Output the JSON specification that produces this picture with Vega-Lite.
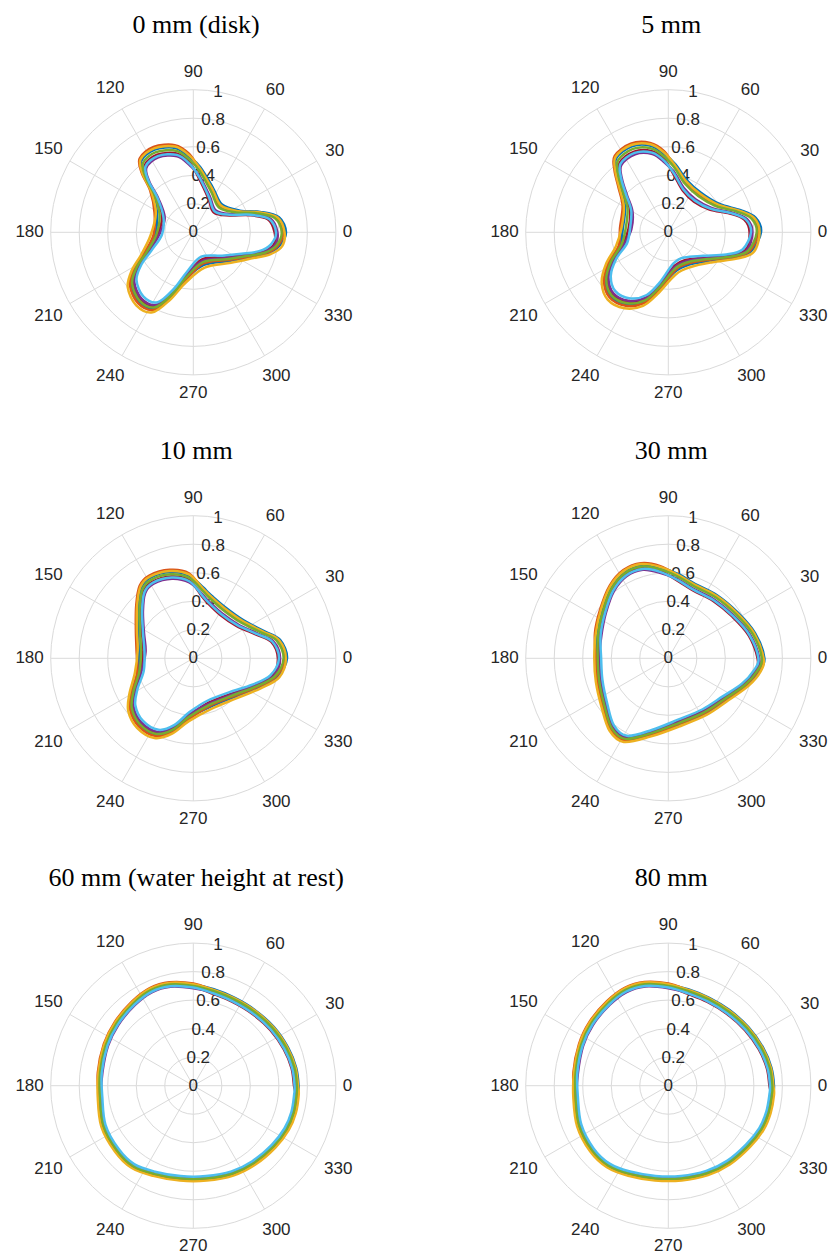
{
"$schema":"https://vega.github.io/schema/vega-lite/v6.json",
"padding":0,
"spacing":0,
"columns":2,
"bounds":"flush",
"config":{"view":{"stroke":null}},
"datasets":{
"grid":[{"r":0.2},{"r":0.4},{"r":0.6},{"r":0.8},{"r":1}],
"spokes":[{"a":0,"t":"0"},{"a":30,"t":"30"},{"a":60,"t":"60"},{"a":90,"t":"90"},{"a":120,"t":"120"},{"a":150,"t":"150"},{"a":180,"t":"180"},{"a":210,"t":"210"},{"a":240,"t":"240"},{"a":270,"t":"270"},{"a":300,"t":"300"},{"a":330,"t":"330"}],
"rt":[{"r":0,"t":"0"},{"r":0.2,"t":"0.2"},{"r":0.4,"t":"0.4"},{"r":0.6,"t":"0.6"},{"r":0.8,"t":"0.8"},{"r":1,"t":"1"}],
"titles":[{"p":1,"t":"0 mm (disk)"},{"p":2,"t":"5 mm"},{"p":3,"t":"10 mm"},{"p":4,"t":"30 mm"},{"p":5,"t":"60 mm (water height at rest)"},{"p":6,"t":"80 mm"}],
"curves":[
{"p":1,"a":0,"c1":0.65,"c2":0.57,"c3":0.63,"c4":0.59,"c5":0.64,"c6":0.58,"c7":0.62},
{"p":1,"a":10,"c1":0.61,"c2":0.53,"c3":0.59,"c4":0.55,"c5":0.60,"c6":0.54,"c7":0.58},
{"p":1,"a":17,"c1":0.49,"c2":0.41,"c3":0.47,"c4":0.43,"c5":0.48,"c6":0.42,"c7":0.46},
{"p":1,"a":25,"c1":0.36,"c2":0.28,"c3":0.34,"c4":0.30,"c5":0.35,"c6":0.29,"c7":0.33},
{"p":1,"a":44,"c1":0.28,"c2":0.20,"c3":0.26,"c4":0.22,"c5":0.27,"c6":0.21,"c7":0.25},
{"p":1,"a":66,"c1":0.34,"c2":0.26,"c3":0.32,"c4":0.28,"c5":0.33,"c6":0.27,"c7":0.31},
{"p":1,"a":84,"c1":0.46,"c2":0.38,"c3":0.44,"c4":0.40,"c5":0.45,"c6":0.39,"c7":0.43},
{"p":1,"a":93,"c1":0.53,"c2":0.49,"c3":0.55,"c4":0.47,"c5":0.54,"c6":0.48,"c7":0.51},
{"p":1,"a":102,"c1":0.605,"c2":0.565,"c3":0.625,"c4":0.545,"c5":0.615,"c6":0.555,"c7":0.585},
{"p":1,"a":115,"c1":0.64,"c2":0.60,"c3":0.66,"c4":0.58,"c5":0.65,"c6":0.59,"c7":0.62},
{"p":1,"a":126,"c1":0.62,"c2":0.58,"c3":0.64,"c4":0.56,"c5":0.63,"c6":0.57,"c7":0.60},
{"p":1,"a":131,"c1":0.53,"c2":0.49,"c3":0.55,"c4":0.47,"c5":0.54,"c6":0.48,"c7":0.51},
{"p":1,"a":136,"c1":0.40,"c2":0.36,"c3":0.42,"c4":0.34,"c5":0.41,"c6":0.35,"c7":0.38},
{"p":1,"a":153,"c1":0.285,"c2":0.245,"c3":0.305,"c4":0.225,"c5":0.295,"c6":0.235,"c7":0.265},
{"p":1,"a":184,"c1":0.27,"c2":0.25,"c3":0.28,"c4":0.24,"c5":0.30,"c6":0.22,"c7":0.26},
{"p":1,"a":203,"c1":0.365,"c2":0.345,"c3":0.375,"c4":0.335,"c5":0.395,"c6":0.315,"c7":0.355},
{"p":1,"a":212,"c1":0.48,"c2":0.46,"c3":0.49,"c4":0.45,"c5":0.51,"c6":0.43,"c7":0.47},
{"p":1,"a":220,"c1":0.57,"c2":0.55,"c3":0.58,"c4":0.54,"c5":0.60,"c6":0.52,"c7":0.56},
{"p":1,"a":232,"c1":0.62,"c2":0.60,"c3":0.63,"c4":0.59,"c5":0.65,"c6":0.57,"c7":0.61},
{"p":1,"a":243,"c1":0.60,"c2":0.58,"c3":0.61,"c4":0.57,"c5":0.63,"c6":0.55,"c7":0.59},
{"p":1,"a":251,"c1":0.47,"c2":0.45,"c3":0.48,"c4":0.44,"c5":0.50,"c6":0.42,"c7":0.46},
{"p":1,"a":261,"c1":0.33,"c2":0.31,"c3":0.34,"c4":0.30,"c5":0.36,"c6":0.28,"c7":0.32},
{"p":1,"a":288,"c1":0.24,"c2":0.20,"c3":0.23,"c4":0.21,"c5":0.26,"c6":0.18,"c7":0.22},
{"p":1,"a":321,"c1":0.32,"c2":0.28,"c3":0.31,"c4":0.29,"c5":0.34,"c6":0.26,"c7":0.30},
{"p":1,"a":336,"c1":0.43,"c2":0.39,"c3":0.42,"c4":0.40,"c5":0.45,"c6":0.37,"c7":0.41},
{"p":1,"a":344,"c1":0.54,"c2":0.50,"c3":0.53,"c4":0.51,"c5":0.56,"c6":0.48,"c7":0.52},
{"p":1,"a":351,"c1":0.61,"c2":0.57,"c3":0.60,"c4":0.58,"c5":0.63,"c6":0.55,"c7":0.59},
{"p":2,"a":0,"c1":0.65,"c2":0.57,"c3":0.63,"c4":0.59,"c5":0.64,"c6":0.58,"c7":0.62},
{"p":2,"a":9.5,"c1":0.62,"c2":0.54,"c3":0.60,"c4":0.56,"c5":0.61,"c6":0.55,"c7":0.59},
{"p":2,"a":17,"c1":0.53,"c2":0.45,"c3":0.51,"c4":0.47,"c5":0.52,"c6":0.46,"c7":0.50},
{"p":2,"a":29,"c1":0.41,"c2":0.33,"c3":0.39,"c4":0.35,"c5":0.40,"c6":0.34,"c7":0.38},
{"p":2,"a":50,"c1":0.36,"c2":0.28,"c3":0.34,"c4":0.30,"c5":0.35,"c6":0.29,"c7":0.33},
{"p":2,"a":71,"c1":0.39,"c2":0.31,"c3":0.37,"c4":0.33,"c5":0.38,"c6":0.32,"c7":0.36},
{"p":2,"a":84,"c1":0.48,"c2":0.40,"c3":0.46,"c4":0.42,"c5":0.47,"c6":0.41,"c7":0.45},
{"p":2,"a":93,"c1":0.55,"c2":0.51,"c3":0.57,"c4":0.49,"c5":0.56,"c6":0.50,"c7":0.53},
{"p":2,"a":101.5,"c1":0.62,"c2":0.58,"c3":0.64,"c4":0.56,"c5":0.63,"c6":0.57,"c7":0.60},
{"p":2,"a":113,"c1":0.655,"c2":0.615,"c3":0.675,"c4":0.595,"c5":0.665,"c6":0.605,"c7":0.635},
{"p":2,"a":125,"c1":0.635,"c2":0.595,"c3":0.655,"c4":0.575,"c5":0.645,"c6":0.585,"c7":0.615},
{"p":2,"a":131,"c1":0.555,"c2":0.515,"c3":0.575,"c4":0.495,"c5":0.565,"c6":0.505,"c7":0.535},
{"p":2,"a":138,"c1":0.45,"c2":0.41,"c3":0.47,"c4":0.39,"c5":0.46,"c6":0.40,"c7":0.43},
{"p":2,"a":150,"c1":0.35,"c2":0.31,"c3":0.37,"c4":0.29,"c5":0.36,"c6":0.30,"c7":0.33},
{"p":2,"a":175,"c1":0.32,"c2":0.28,"c3":0.34,"c4":0.26,"c5":0.33,"c6":0.27,"c7":0.30},
{"p":2,"a":195,"c1":0.35,"c2":0.33,"c3":0.36,"c4":0.32,"c5":0.38,"c6":0.30,"c7":0.34},
{"p":2,"a":207,"c1":0.46,"c2":0.44,"c3":0.47,"c4":0.43,"c5":0.49,"c6":0.41,"c7":0.45},
{"p":2,"a":217,"c1":0.555,"c2":0.535,"c3":0.565,"c4":0.525,"c5":0.585,"c6":0.505,"c7":0.545},
{"p":2,"a":228,"c1":0.605,"c2":0.585,"c3":0.615,"c4":0.575,"c5":0.635,"c6":0.555,"c7":0.595},
{"p":2,"a":240,"c1":0.585,"c2":0.565,"c3":0.595,"c4":0.555,"c5":0.615,"c6":0.535,"c7":0.575},
{"p":2,"a":251,"c1":0.515,"c2":0.495,"c3":0.525,"c4":0.485,"c5":0.545,"c6":0.465,"c7":0.505},
{"p":2,"a":260,"c1":0.41,"c2":0.39,"c3":0.42,"c4":0.38,"c5":0.44,"c6":0.36,"c7":0.40},
{"p":2,"a":280,"c1":0.28,"c2":0.24,"c3":0.27,"c4":0.25,"c5":0.30,"c6":0.22,"c7":0.26},
{"p":2,"a":303,"c1":0.27,"c2":0.23,"c3":0.26,"c4":0.24,"c5":0.29,"c6":0.21,"c7":0.25},
{"p":2,"a":326,"c1":0.355,"c2":0.315,"c3":0.345,"c4":0.325,"c5":0.375,"c6":0.295,"c7":0.335},
{"p":2,"a":339,"c1":0.495,"c2":0.455,"c3":0.485,"c4":0.465,"c5":0.515,"c6":0.435,"c7":0.475},
{"p":2,"a":347,"c1":0.595,"c2":0.555,"c3":0.585,"c4":0.565,"c5":0.615,"c6":0.535,"c7":0.575},
{"p":3,"a":0,"c1":0.657,"c2":0.593,"c3":0.641,"c4":0.609,"c5":0.649,"c6":0.601,"c7":0.633},
{"p":3,"a":12,"c1":0.622,"c2":0.558,"c3":0.606,"c4":0.574,"c5":0.614,"c6":0.566,"c7":0.598},
{"p":3,"a":21,"c1":0.532,"c2":0.468,"c3":0.516,"c4":0.484,"c5":0.524,"c6":0.476,"c7":0.508},
{"p":3,"a":37,"c1":0.442,"c2":0.378,"c3":0.426,"c4":0.394,"c5":0.434,"c6":0.386,"c7":0.418},
{"p":3,"a":58,"c1":0.422,"c2":0.358,"c3":0.406,"c4":0.374,"c5":0.414,"c6":0.366,"c7":0.398},
{"p":3,"a":76,"c1":0.467,"c2":0.403,"c3":0.451,"c4":0.419,"c5":0.459,"c6":0.411,"c7":0.443},
{"p":3,"a":82,"c1":0.502,"c2":0.438,"c3":0.486,"c4":0.454,"c5":0.494,"c6":0.446,"c7":0.478},
{"p":3,"a":93,"c1":0.581,"c2":0.549,"c3":0.597,"c4":0.533,"c5":0.589,"c6":0.541,"c7":0.565},
{"p":3,"a":105,"c1":0.626,"c2":0.594,"c3":0.642,"c4":0.578,"c5":0.634,"c6":0.586,"c7":0.61},
{"p":3,"a":118,"c1":0.641,"c2":0.609,"c3":0.657,"c4":0.593,"c5":0.649,"c6":0.601,"c7":0.625},
{"p":3,"a":126.5,"c1":0.616,"c2":0.584,"c3":0.632,"c4":0.568,"c5":0.624,"c6":0.576,"c7":0.60},
{"p":3,"a":137,"c1":0.531,"c2":0.499,"c3":0.547,"c4":0.483,"c5":0.539,"c6":0.491,"c7":0.515},
{"p":3,"a":153,"c1":0.436,"c2":0.404,"c3":0.452,"c4":0.388,"c5":0.444,"c6":0.396,"c7":0.42},
{"p":3,"a":172,"c1":0.386,"c2":0.354,"c3":0.402,"c4":0.338,"c5":0.394,"c6":0.346,"c7":0.37},
{"p":3,"a":194,"c1":0.398,"c2":0.382,"c3":0.406,"c4":0.374,"c5":0.422,"c6":0.358,"c7":0.39},
{"p":3,"a":209,"c1":0.488,"c2":0.472,"c3":0.496,"c4":0.464,"c5":0.512,"c6":0.448,"c7":0.48},
{"p":3,"a":219,"c1":0.563,"c2":0.547,"c3":0.571,"c4":0.539,"c5":0.587,"c6":0.523,"c7":0.555},
{"p":3,"a":231,"c1":0.603,"c2":0.587,"c3":0.611,"c4":0.579,"c5":0.627,"c6":0.563,"c7":0.595},
{"p":3,"a":244,"c1":0.598,"c2":0.582,"c3":0.606,"c4":0.574,"c5":0.622,"c6":0.558,"c7":0.59},
{"p":3,"a":254,"c1":0.528,"c2":0.512,"c3":0.536,"c4":0.504,"c5":0.552,"c6":0.488,"c7":0.52},
{"p":3,"a":266,"c1":0.418,"c2":0.402,"c3":0.426,"c4":0.394,"c5":0.442,"c6":0.378,"c7":0.41},
{"p":3,"a":289,"c1":0.361,"c2":0.329,"c3":0.353,"c4":0.337,"c5":0.377,"c6":0.313,"c7":0.345},
{"p":3,"a":317,"c1":0.396,"c2":0.364,"c3":0.388,"c4":0.372,"c5":0.412,"c6":0.348,"c7":0.38},
{"p":3,"a":336,"c1":0.501,"c2":0.469,"c3":0.493,"c4":0.477,"c5":0.517,"c6":0.453,"c7":0.485},
{"p":3,"a":347.5,"c1":0.601,"c2":0.569,"c3":0.593,"c4":0.577,"c5":0.617,"c6":0.553,"c7":0.585},
{"p":4,"a":0,"c1":0.674,"c2":0.626,"c3":0.662,"c4":0.638,"c5":0.668,"c6":0.632,"c7":0.656},
{"p":4,"a":16,"c1":0.634,"c2":0.586,"c3":0.622,"c4":0.598,"c5":0.628,"c6":0.592,"c7":0.616},
{"p":4,"a":33,"c1":0.584,"c2":0.536,"c3":0.572,"c4":0.548,"c5":0.578,"c6":0.542,"c7":0.566},
{"p":4,"a":52,"c1":0.559,"c2":0.511,"c3":0.547,"c4":0.523,"c5":0.553,"c6":0.517,"c7":0.541},
{"p":4,"a":70,"c1":0.554,"c2":0.506,"c3":0.542,"c4":0.518,"c5":0.548,"c6":0.512,"c7":0.536},
{"p":4,"a":83,"c1":0.594,"c2":0.546,"c3":0.582,"c4":0.558,"c5":0.588,"c6":0.552,"c7":0.576},
{"p":4,"a":95,"c1":0.637,"c2":0.613,"c3":0.649,"c4":0.601,"c5":0.643,"c6":0.607,"c7":0.625},
{"p":4,"a":106,"c1":0.682,"c2":0.658,"c3":0.694,"c4":0.646,"c5":0.688,"c6":0.652,"c7":0.67},
{"p":4,"a":117,"c1":0.682,"c2":0.658,"c3":0.694,"c4":0.646,"c5":0.688,"c6":0.652,"c7":0.67},
{"p":4,"a":129,"c1":0.642,"c2":0.618,"c3":0.654,"c4":0.606,"c5":0.648,"c6":0.612,"c7":0.63},
{"p":4,"a":144,"c1":0.577,"c2":0.553,"c3":0.589,"c4":0.541,"c5":0.583,"c6":0.547,"c7":0.565},
{"p":4,"a":161,"c1":0.532,"c2":0.508,"c3":0.544,"c4":0.496,"c5":0.538,"c6":0.502,"c7":0.52},
{"p":4,"a":180,"c1":0.501,"c2":0.489,"c3":0.507,"c4":0.483,"c5":0.519,"c6":0.471,"c7":0.495},
{"p":4,"a":198,"c1":0.516,"c2":0.504,"c3":0.522,"c4":0.498,"c5":0.534,"c6":0.486,"c7":0.51},
{"p":4,"a":216,"c1":0.561,"c2":0.549,"c3":0.567,"c4":0.543,"c5":0.579,"c6":0.531,"c7":0.555},
{"p":4,"a":231,"c1":0.636,"c2":0.624,"c3":0.642,"c4":0.618,"c5":0.654,"c6":0.606,"c7":0.63},
{"p":4,"a":242,"c1":0.646,"c2":0.634,"c3":0.652,"c4":0.628,"c5":0.664,"c6":0.616,"c7":0.64},
{"p":4,"a":257,"c1":0.546,"c2":0.534,"c3":0.552,"c4":0.528,"c5":0.564,"c6":0.516,"c7":0.54},
{"p":4,"a":279,"c1":0.472,"c2":0.448,"c3":0.466,"c4":0.454,"c5":0.484,"c6":0.436,"c7":0.46},
{"p":4,"a":304,"c1":0.467,"c2":0.443,"c3":0.461,"c4":0.449,"c5":0.479,"c6":0.431,"c7":0.455},
{"p":4,"a":325,"c1":0.502,"c2":0.478,"c3":0.496,"c4":0.484,"c5":0.514,"c6":0.466,"c7":0.49},
{"p":4,"a":341,"c1":0.582,"c2":0.558,"c3":0.576,"c4":0.564,"c5":0.594,"c6":0.546,"c7":0.57},
{"p":4,"a":352,"c1":0.642,"c2":0.618,"c3":0.636,"c4":0.624,"c5":0.654,"c6":0.606,"c7":0.63},
{"p":5,"a":0,"c1":0.738,"c2":0.706,"c3":0.730,"c4":0.714,"c5":0.734,"c6":0.710,"c7":0.726},
{"p":5,"a":10,"c1":0.732,"c2":0.700,"c3":0.724,"c4":0.708,"c5":0.728,"c6":0.704,"c7":0.720},
{"p":5,"a":22,"c1":0.716,"c2":0.684,"c3":0.708,"c4":0.692,"c5":0.712,"c6":0.688,"c7":0.704},
{"p":5,"a":36,"c1":0.699,"c2":0.667,"c3":0.691,"c4":0.675,"c5":0.695,"c6":0.671,"c7":0.687},
{"p":5,"a":51,"c1":0.684,"c2":0.652,"c3":0.676,"c4":0.660,"c5":0.680,"c6":0.656,"c7":0.672},
{"p":5,"a":65,"c1":0.681,"c2":0.649,"c3":0.673,"c4":0.657,"c5":0.677,"c6":0.653,"c7":0.669},
{"p":5,"a":78,"c1":0.691,"c2":0.659,"c3":0.683,"c4":0.667,"c5":0.687,"c6":0.663,"c7":0.679},
{"p":5,"a":90,"c1":0.708,"c2":0.692,"c3":0.716,"c4":0.684,"c5":0.712,"c6":0.688,"c7":0.70},
{"p":5,"a":103,"c1":0.736,"c2":0.720,"c3":0.744,"c4":0.712,"c5":0.740,"c6":0.716,"c7":0.728},
{"p":5,"a":114,"c1":0.741,"c2":0.725,"c3":0.749,"c4":0.717,"c5":0.745,"c6":0.721,"c7":0.733},
{"p":5,"a":126,"c1":0.722,"c2":0.706,"c3":0.730,"c4":0.698,"c5":0.726,"c6":0.702,"c7":0.714},
{"p":5,"a":141,"c1":0.701,"c2":0.685,"c3":0.709,"c4":0.677,"c5":0.705,"c6":0.681,"c7":0.693},
{"p":5,"a":155,"c1":0.684,"c2":0.668,"c3":0.692,"c4":0.660,"c5":0.688,"c6":0.664,"c7":0.676},
{"p":5,"a":172,"c1":0.668,"c2":0.652,"c3":0.676,"c4":0.644,"c5":0.672,"c6":0.648,"c7":0.66},
{"p":5,"a":187,"c1":0.663,"c2":0.655,"c3":0.667,"c4":0.651,"c5":0.675,"c6":0.643,"c7":0.659},
{"p":5,"a":204,"c1":0.694,"c2":0.686,"c3":0.698,"c4":0.682,"c5":0.706,"c6":0.674,"c7":0.69},
{"p":5,"a":220,"c1":0.706,"c2":0.698,"c3":0.710,"c4":0.694,"c5":0.718,"c6":0.686,"c7":0.702},
{"p":5,"a":233,"c1":0.709,"c2":0.701,"c3":0.713,"c4":0.697,"c5":0.721,"c6":0.689,"c7":0.705},
{"p":5,"a":246,"c1":0.680,"c2":0.672,"c3":0.684,"c4":0.668,"c5":0.692,"c6":0.660,"c7":0.676},
{"p":5,"a":262,"c1":0.660,"c2":0.652,"c3":0.664,"c4":0.648,"c5":0.672,"c6":0.640,"c7":0.656},
{"p":5,"a":278,"c1":0.664,"c2":0.648,"c3":0.660,"c4":0.652,"c5":0.672,"c6":0.640,"c7":0.656},
{"p":5,"a":294,"c1":0.682,"c2":0.666,"c3":0.678,"c4":0.670,"c5":0.690,"c6":0.658,"c7":0.674},
{"p":5,"a":308,"c1":0.696,"c2":0.680,"c3":0.692,"c4":0.684,"c5":0.704,"c6":0.672,"c7":0.688},
{"p":5,"a":323,"c1":0.713,"c2":0.697,"c3":0.709,"c4":0.701,"c5":0.721,"c6":0.689,"c7":0.705},
{"p":5,"a":335,"c1":0.730,"c2":0.714,"c3":0.726,"c4":0.718,"c5":0.738,"c6":0.706,"c7":0.722},
{"p":5,"a":345,"c1":0.736,"c2":0.720,"c3":0.732,"c4":0.724,"c5":0.744,"c6":0.712,"c7":0.728},
{"p":5,"a":355,"c1":0.734,"c2":0.718,"c3":0.730,"c4":0.722,"c5":0.742,"c6":0.710,"c7":0.726},
{"p":6,"a":0,"c1":0.741,"c2":0.709,"c3":0.733,"c4":0.717,"c5":0.737,"c6":0.713,"c7":0.729},
{"p":6,"a":10,"c1":0.734,"c2":0.702,"c3":0.726,"c4":0.710,"c5":0.730,"c6":0.706,"c7":0.722},
{"p":6,"a":22,"c1":0.716,"c2":0.684,"c3":0.708,"c4":0.692,"c5":0.712,"c6":0.688,"c7":0.704},
{"p":6,"a":36,"c1":0.696,"c2":0.664,"c3":0.688,"c4":0.672,"c5":0.692,"c6":0.668,"c7":0.684},
{"p":6,"a":51,"c1":0.682,"c2":0.650,"c3":0.674,"c4":0.658,"c5":0.678,"c6":0.654,"c7":0.670},
{"p":6,"a":65,"c1":0.680,"c2":0.648,"c3":0.672,"c4":0.656,"c5":0.676,"c6":0.652,"c7":0.668},
{"p":6,"a":78,"c1":0.690,"c2":0.658,"c3":0.682,"c4":0.666,"c5":0.686,"c6":0.662,"c7":0.678},
{"p":6,"a":90,"c1":0.708,"c2":0.692,"c3":0.716,"c4":0.684,"c5":0.712,"c6":0.688,"c7":0.70},
{"p":6,"a":103,"c1":0.738,"c2":0.722,"c3":0.746,"c4":0.714,"c5":0.742,"c6":0.718,"c7":0.73},
{"p":6,"a":114,"c1":0.743,"c2":0.727,"c3":0.751,"c4":0.719,"c5":0.747,"c6":0.723,"c7":0.735},
{"p":6,"a":126,"c1":0.724,"c2":0.708,"c3":0.732,"c4":0.700,"c5":0.728,"c6":0.704,"c7":0.716},
{"p":6,"a":141,"c1":0.703,"c2":0.687,"c3":0.711,"c4":0.679,"c5":0.707,"c6":0.683,"c7":0.695},
{"p":6,"a":155,"c1":0.683,"c2":0.667,"c3":0.691,"c4":0.659,"c5":0.687,"c6":0.663,"c7":0.675},
{"p":6,"a":172,"c1":0.664,"c2":0.648,"c3":0.672,"c4":0.640,"c5":0.668,"c6":0.644,"c7":0.656},
{"p":6,"a":187,"c1":0.659,"c2":0.651,"c3":0.663,"c4":0.647,"c5":0.671,"c6":0.639,"c7":0.655},
{"p":6,"a":204,"c1":0.688,"c2":0.680,"c3":0.692,"c4":0.676,"c5":0.700,"c6":0.668,"c7":0.684},
{"p":6,"a":220,"c1":0.704,"c2":0.696,"c3":0.708,"c4":0.692,"c5":0.716,"c6":0.684,"c7":0.70},
{"p":6,"a":233,"c1":0.704,"c2":0.696,"c3":0.708,"c4":0.692,"c5":0.716,"c6":0.684,"c7":0.70},
{"p":6,"a":246,"c1":0.679,"c2":0.671,"c3":0.683,"c4":0.667,"c5":0.691,"c6":0.659,"c7":0.675},
{"p":6,"a":262,"c1":0.659,"c2":0.651,"c3":0.663,"c4":0.647,"c5":0.671,"c6":0.639,"c7":0.655},
{"p":6,"a":278,"c1":0.663,"c2":0.647,"c3":0.659,"c4":0.651,"c5":0.671,"c6":0.639,"c7":0.655},
{"p":6,"a":294,"c1":0.678,"c2":0.662,"c3":0.674,"c4":0.666,"c5":0.686,"c6":0.654,"c7":0.67},
{"p":6,"a":308,"c1":0.693,"c2":0.677,"c3":0.689,"c4":0.681,"c5":0.701,"c6":0.669,"c7":0.685},
{"p":6,"a":323,"c1":0.708,"c2":0.692,"c3":0.704,"c4":0.696,"c5":0.716,"c6":0.684,"c7":0.70},
{"p":6,"a":335,"c1":0.728,"c2":0.712,"c3":0.724,"c4":0.716,"c5":0.736,"c6":0.704,"c7":0.72},
{"p":6,"a":345,"c1":0.735,"c2":0.719,"c3":0.731,"c4":0.723,"c5":0.743,"c6":0.711,"c7":0.727},
{"p":6,"a":355,"c1":0.736,"c2":0.720,"c3":0.732,"c4":0.724,"c5":0.744,"c6":0.712,"c7":0.728}
]
},
"concat":[
{"width":415,"height":418,
"encoding":{"x":{"field":"x","type":"quantitative","scale":{"domain":[-1.35554,1.5547],"nice":false,"zero":false},"axis":null},"y":{"field":"y","type":"quantitative","scale":{"domain":[-1.30224,1.62903],"nice":false,"zero":false},"axis":null}},
"layer":[
{"data":{"name":"grid"},"transform":[{"calculate":"0","as":"x"},{"calculate":"0","as":"y"}],"mark":{"type":"arc","filled":false,"stroke":"#dadada","strokeWidth":1,"theta":0,"theta2":6.2832},"encoding":{"radius":{"field":"r","type":"quantitative","stack":null,"scale":{"type":"linear","domain":[0,1],"range":[0,142.6]},"legend":null}}},
{"data":{"name":"spokes"},"transform":[{"calculate":"cos(datum.a*PI/180)","as":"x"},{"calculate":"sin(datum.a*PI/180)","as":"y"},{"calculate":"0","as":"x0"},{"calculate":"0","as":"y0"}],"mark":{"type":"rule","stroke":"#dadada","strokeWidth":1},"encoding":{"x2":{"field":"x0"},"y2":{"field":"y0"}}},
{"data":{"name":"spokes"},"transform":[{"calculate":"datum.a*PI/180","as":"q"},{"calculate":"1+(7+length(datum.t)*4.7*abs(cos(datum.q))+11*abs(sin(datum.q)))/142.6","as":"k"},{"calculate":"datum.k*cos(datum.q)","as":"x"},{"calculate":"datum.k*sin(datum.q)","as":"y"}],"mark":{"type":"text","font":"Liberation Sans","fontSize":17,"color":"#262626","align":"center","baseline":"middle"},"encoding":{"text":{"field":"t","type":"nominal"}}},
{"data":{"name":"rt"},"transform":[{"calculate":"datum.r*0.17365","as":"x"},{"calculate":"datum.r*0.98481","as":"y"}],"mark":{"type":"text","font":"Liberation Sans","fontSize":17,"color":"#262626","align":"center","baseline":"middle"},"encoding":{"text":{"field":"t","type":"nominal"}}},
{"data":{"name":"titles"},"transform":[{"filter":"datum.p==1"},{"calculate":"0.02","as":"x"},{"calculate":"1.455","as":"y"}],"mark":{"type":"text","font":"Liberation Serif","fontSize":26,"color":"#000000","align":"center","baseline":"middle"},"encoding":{"text":{"field":"t","type":"nominal"}}},
{"data":{"name":"curves"},"transform":[{"filter":"datum.p==1"},{"fold":["c1","c2","c3","c4","c5","c7"],"as":["k","r"]},{"calculate":"datum.r*cos(datum.a*PI/180)","as":"x"},{"calculate":"datum.r*sin(datum.a*PI/180)","as":"y"}],"mark":{"type":"line","interpolate":"cardinal-closed","strokeWidth":2.5},"encoding":{"order":{"field":"a","type":"quantitative"},"color":{"field":"k","type":"nominal","scale":{"domain":["c1","c2","c3","c4","c5","c6","c7"],"range":["#0072BD","#A2142F","#D95319","#7E2F8E","#EDB120","#4DBEEE","#77AC30"]},"legend":null}}},
{"data":{"name":"curves"},"transform":[{"filter":"datum.p==1"},{"fold":["c6"],"as":["k","r"]},{"calculate":"datum.r*cos(datum.a*PI/180)","as":"x"},{"calculate":"datum.r*sin(datum.a*PI/180)","as":"y"}],"mark":{"type":"line","interpolate":"cardinal-closed","strokeWidth":2.5},"encoding":{"order":{"field":"a","type":"quantitative"},"color":{"field":"k","type":"nominal","scale":{"domain":["c1","c2","c3","c4","c5","c6","c7"],"range":["#0072BD","#A2142F","#D95319","#7E2F8E","#EDB120","#4DBEEE","#77AC30"]},"legend":null}}}
]},
{"width":415,"height":418,
"encoding":{"x":{"field":"x","type":"quantitative","scale":{"domain":[-1.7763,1.13394],"nice":false,"zero":false},"axis":null},"y":{"field":"y","type":"quantitative","scale":{"domain":[-1.30224,1.62903],"nice":false,"zero":false},"axis":null}},
"layer":[
{"data":{"name":"grid"},"transform":[{"calculate":"0","as":"x"},{"calculate":"0","as":"y"}],"mark":{"type":"arc","filled":false,"stroke":"#dadada","strokeWidth":1,"theta":0,"theta2":6.2832},"encoding":{"radius":{"field":"r","type":"quantitative","stack":null,"scale":{"type":"linear","domain":[0,1],"range":[0,142.6]},"legend":null}}},
{"data":{"name":"spokes"},"transform":[{"calculate":"cos(datum.a*PI/180)","as":"x"},{"calculate":"sin(datum.a*PI/180)","as":"y"},{"calculate":"0","as":"x0"},{"calculate":"0","as":"y0"}],"mark":{"type":"rule","stroke":"#dadada","strokeWidth":1},"encoding":{"x2":{"field":"x0"},"y2":{"field":"y0"}}},
{"data":{"name":"spokes"},"transform":[{"calculate":"datum.a*PI/180","as":"q"},{"calculate":"1+(7+length(datum.t)*4.7*abs(cos(datum.q))+11*abs(sin(datum.q)))/142.6","as":"k"},{"calculate":"datum.k*cos(datum.q)","as":"x"},{"calculate":"datum.k*sin(datum.q)","as":"y"}],"mark":{"type":"text","font":"Liberation Sans","fontSize":17,"color":"#262626","align":"center","baseline":"middle"},"encoding":{"text":{"field":"t","type":"nominal"}}},
{"data":{"name":"rt"},"transform":[{"calculate":"datum.r*0.17365","as":"x"},{"calculate":"datum.r*0.98481","as":"y"}],"mark":{"type":"text","font":"Liberation Sans","fontSize":17,"color":"#262626","align":"center","baseline":"middle"},"encoding":{"text":{"field":"t","type":"nominal"}}},
{"data":{"name":"titles"},"transform":[{"filter":"datum.p==2"},{"calculate":"0.02","as":"x"},{"calculate":"1.455","as":"y"}],"mark":{"type":"text","font":"Liberation Serif","fontSize":26,"color":"#000000","align":"center","baseline":"middle"},"encoding":{"text":{"field":"t","type":"nominal"}}},
{"data":{"name":"curves"},"transform":[{"filter":"datum.p==2"},{"fold":["c1","c2","c3","c4","c5","c7"],"as":["k","r"]},{"calculate":"datum.r*cos(datum.a*PI/180)","as":"x"},{"calculate":"datum.r*sin(datum.a*PI/180)","as":"y"}],"mark":{"type":"line","interpolate":"cardinal-closed","strokeWidth":2.5},"encoding":{"order":{"field":"a","type":"quantitative"},"color":{"field":"k","type":"nominal","scale":{"domain":["c1","c2","c3","c4","c5","c6","c7"],"range":["#0072BD","#A2142F","#D95319","#7E2F8E","#EDB120","#4DBEEE","#77AC30"]},"legend":null}}},
{"data":{"name":"curves"},"transform":[{"filter":"datum.p==2"},{"fold":["c6"],"as":["k","r"]},{"calculate":"datum.r*cos(datum.a*PI/180)","as":"x"},{"calculate":"datum.r*sin(datum.a*PI/180)","as":"y"}],"mark":{"type":"line","interpolate":"cardinal-closed","strokeWidth":2.5},"encoding":{"order":{"field":"a","type":"quantitative"},"color":{"field":"k","type":"nominal","scale":{"domain":["c1","c2","c3","c4","c5","c6","c7"],"range":["#0072BD","#A2142F","#D95319","#7E2F8E","#EDB120","#4DBEEE","#77AC30"]},"legend":null}}}
]},
{"width":415,"height":418,
"encoding":{"x":{"field":"x","type":"quantitative","scale":{"domain":[-1.35554,1.5547],"nice":false,"zero":false},"axis":null},"y":{"field":"y","type":"quantitative","scale":{"domain":[-1.24614,1.68513],"nice":false,"zero":false},"axis":null}},
"layer":[
{"data":{"name":"grid"},"transform":[{"calculate":"0","as":"x"},{"calculate":"0","as":"y"}],"mark":{"type":"arc","filled":false,"stroke":"#dadada","strokeWidth":1,"theta":0,"theta2":6.2832},"encoding":{"radius":{"field":"r","type":"quantitative","stack":null,"scale":{"type":"linear","domain":[0,1],"range":[0,142.6]},"legend":null}}},
{"data":{"name":"spokes"},"transform":[{"calculate":"cos(datum.a*PI/180)","as":"x"},{"calculate":"sin(datum.a*PI/180)","as":"y"},{"calculate":"0","as":"x0"},{"calculate":"0","as":"y0"}],"mark":{"type":"rule","stroke":"#dadada","strokeWidth":1},"encoding":{"x2":{"field":"x0"},"y2":{"field":"y0"}}},
{"data":{"name":"spokes"},"transform":[{"calculate":"datum.a*PI/180","as":"q"},{"calculate":"1+(7+length(datum.t)*4.7*abs(cos(datum.q))+11*abs(sin(datum.q)))/142.6","as":"k"},{"calculate":"datum.k*cos(datum.q)","as":"x"},{"calculate":"datum.k*sin(datum.q)","as":"y"}],"mark":{"type":"text","font":"Liberation Sans","fontSize":17,"color":"#262626","align":"center","baseline":"middle"},"encoding":{"text":{"field":"t","type":"nominal"}}},
{"data":{"name":"rt"},"transform":[{"calculate":"datum.r*0.17365","as":"x"},{"calculate":"datum.r*0.98481","as":"y"}],"mark":{"type":"text","font":"Liberation Sans","fontSize":17,"color":"#262626","align":"center","baseline":"middle"},"encoding":{"text":{"field":"t","type":"nominal"}}},
{"data":{"name":"titles"},"transform":[{"filter":"datum.p==3"},{"calculate":"0.02","as":"x"},{"calculate":"1.455","as":"y"}],"mark":{"type":"text","font":"Liberation Serif","fontSize":26,"color":"#000000","align":"center","baseline":"middle"},"encoding":{"text":{"field":"t","type":"nominal"}}},
{"data":{"name":"curves"},"transform":[{"filter":"datum.p==3"},{"fold":["c1","c2","c3","c4","c5","c7"],"as":["k","r"]},{"calculate":"datum.r*cos(datum.a*PI/180)","as":"x"},{"calculate":"datum.r*sin(datum.a*PI/180)","as":"y"}],"mark":{"type":"line","interpolate":"cardinal-closed","strokeWidth":2.5},"encoding":{"order":{"field":"a","type":"quantitative"},"color":{"field":"k","type":"nominal","scale":{"domain":["c1","c2","c3","c4","c5","c6","c7"],"range":["#0072BD","#A2142F","#D95319","#7E2F8E","#EDB120","#4DBEEE","#77AC30"]},"legend":null}}},
{"data":{"name":"curves"},"transform":[{"filter":"datum.p==3"},{"fold":["c6"],"as":["k","r"]},{"calculate":"datum.r*cos(datum.a*PI/180)","as":"x"},{"calculate":"datum.r*sin(datum.a*PI/180)","as":"y"}],"mark":{"type":"line","interpolate":"cardinal-closed","strokeWidth":2.5},"encoding":{"order":{"field":"a","type":"quantitative"},"color":{"field":"k","type":"nominal","scale":{"domain":["c1","c2","c3","c4","c5","c6","c7"],"range":["#0072BD","#A2142F","#D95319","#7E2F8E","#EDB120","#4DBEEE","#77AC30"]},"legend":null}}}
]},
{"width":415,"height":418,
"encoding":{"x":{"field":"x","type":"quantitative","scale":{"domain":[-1.7763,1.13394],"nice":false,"zero":false},"axis":null},"y":{"field":"y","type":"quantitative","scale":{"domain":[-1.24614,1.68513],"nice":false,"zero":false},"axis":null}},
"layer":[
{"data":{"name":"grid"},"transform":[{"calculate":"0","as":"x"},{"calculate":"0","as":"y"}],"mark":{"type":"arc","filled":false,"stroke":"#dadada","strokeWidth":1,"theta":0,"theta2":6.2832},"encoding":{"radius":{"field":"r","type":"quantitative","stack":null,"scale":{"type":"linear","domain":[0,1],"range":[0,142.6]},"legend":null}}},
{"data":{"name":"spokes"},"transform":[{"calculate":"cos(datum.a*PI/180)","as":"x"},{"calculate":"sin(datum.a*PI/180)","as":"y"},{"calculate":"0","as":"x0"},{"calculate":"0","as":"y0"}],"mark":{"type":"rule","stroke":"#dadada","strokeWidth":1},"encoding":{"x2":{"field":"x0"},"y2":{"field":"y0"}}},
{"data":{"name":"spokes"},"transform":[{"calculate":"datum.a*PI/180","as":"q"},{"calculate":"1+(7+length(datum.t)*4.7*abs(cos(datum.q))+11*abs(sin(datum.q)))/142.6","as":"k"},{"calculate":"datum.k*cos(datum.q)","as":"x"},{"calculate":"datum.k*sin(datum.q)","as":"y"}],"mark":{"type":"text","font":"Liberation Sans","fontSize":17,"color":"#262626","align":"center","baseline":"middle"},"encoding":{"text":{"field":"t","type":"nominal"}}},
{"data":{"name":"rt"},"transform":[{"calculate":"datum.r*0.17365","as":"x"},{"calculate":"datum.r*0.98481","as":"y"}],"mark":{"type":"text","font":"Liberation Sans","fontSize":17,"color":"#262626","align":"center","baseline":"middle"},"encoding":{"text":{"field":"t","type":"nominal"}}},
{"data":{"name":"titles"},"transform":[{"filter":"datum.p==4"},{"calculate":"0.02","as":"x"},{"calculate":"1.455","as":"y"}],"mark":{"type":"text","font":"Liberation Serif","fontSize":26,"color":"#000000","align":"center","baseline":"middle"},"encoding":{"text":{"field":"t","type":"nominal"}}},
{"data":{"name":"curves"},"transform":[{"filter":"datum.p==4"},{"fold":["c1","c2","c3","c4","c5","c7"],"as":["k","r"]},{"calculate":"datum.r*cos(datum.a*PI/180)","as":"x"},{"calculate":"datum.r*sin(datum.a*PI/180)","as":"y"}],"mark":{"type":"line","interpolate":"cardinal-closed","strokeWidth":2.5},"encoding":{"order":{"field":"a","type":"quantitative"},"color":{"field":"k","type":"nominal","scale":{"domain":["c1","c2","c3","c4","c5","c6","c7"],"range":["#0072BD","#A2142F","#D95319","#7E2F8E","#EDB120","#4DBEEE","#77AC30"]},"legend":null}}},
{"data":{"name":"curves"},"transform":[{"filter":"datum.p==4"},{"fold":["c6"],"as":["k","r"]},{"calculate":"datum.r*cos(datum.a*PI/180)","as":"x"},{"calculate":"datum.r*sin(datum.a*PI/180)","as":"y"}],"mark":{"type":"line","interpolate":"cardinal-closed","strokeWidth":2.5},"encoding":{"order":{"field":"a","type":"quantitative"},"color":{"field":"k","type":"nominal","scale":{"domain":["c1","c2","c3","c4","c5","c6","c7"],"range":["#0072BD","#A2142F","#D95319","#7E2F8E","#EDB120","#4DBEEE","#77AC30"]},"legend":null}}}
]},
{"width":415,"height":419,
"encoding":{"x":{"field":"x","type":"quantitative","scale":{"domain":[-1.35554,1.5547],"nice":false,"zero":false},"axis":null},"y":{"field":"y","type":"quantitative","scale":{"domain":[-1.18724,1.75105],"nice":false,"zero":false},"axis":null}},
"layer":[
{"data":{"name":"grid"},"transform":[{"calculate":"0","as":"x"},{"calculate":"0","as":"y"}],"mark":{"type":"arc","filled":false,"stroke":"#dadada","strokeWidth":1,"theta":0,"theta2":6.2832},"encoding":{"radius":{"field":"r","type":"quantitative","stack":null,"scale":{"type":"linear","domain":[0,1],"range":[0,142.6]},"legend":null}}},
{"data":{"name":"spokes"},"transform":[{"calculate":"cos(datum.a*PI/180)","as":"x"},{"calculate":"sin(datum.a*PI/180)","as":"y"},{"calculate":"0","as":"x0"},{"calculate":"0","as":"y0"}],"mark":{"type":"rule","stroke":"#dadada","strokeWidth":1},"encoding":{"x2":{"field":"x0"},"y2":{"field":"y0"}}},
{"data":{"name":"spokes"},"transform":[{"calculate":"datum.a*PI/180","as":"q"},{"calculate":"1+(7+length(datum.t)*4.7*abs(cos(datum.q))+11*abs(sin(datum.q)))/142.6","as":"k"},{"calculate":"datum.k*cos(datum.q)","as":"x"},{"calculate":"datum.k*sin(datum.q)","as":"y"}],"mark":{"type":"text","font":"Liberation Sans","fontSize":17,"color":"#262626","align":"center","baseline":"middle"},"encoding":{"text":{"field":"t","type":"nominal"}}},
{"data":{"name":"rt"},"transform":[{"calculate":"datum.r*0.17365","as":"x"},{"calculate":"datum.r*0.98481","as":"y"}],"mark":{"type":"text","font":"Liberation Sans","fontSize":17,"color":"#262626","align":"center","baseline":"middle"},"encoding":{"text":{"field":"t","type":"nominal"}}},
{"data":{"name":"titles"},"transform":[{"filter":"datum.p==5"},{"calculate":"0.02","as":"x"},{"calculate":"1.455","as":"y"}],"mark":{"type":"text","font":"Liberation Serif","fontSize":26,"color":"#000000","align":"center","baseline":"middle"},"encoding":{"text":{"field":"t","type":"nominal"}}},
{"data":{"name":"curves"},"transform":[{"filter":"datum.p==5"},{"fold":["c1","c2","c3","c4","c5","c7"],"as":["k","r"]},{"calculate":"datum.r*cos(datum.a*PI/180)","as":"x"},{"calculate":"datum.r*sin(datum.a*PI/180)","as":"y"}],"mark":{"type":"line","interpolate":"cardinal-closed","strokeWidth":2.5},"encoding":{"order":{"field":"a","type":"quantitative"},"color":{"field":"k","type":"nominal","scale":{"domain":["c1","c2","c3","c4","c5","c6","c7"],"range":["#0072BD","#A2142F","#D95319","#7E2F8E","#EDB120","#4DBEEE","#77AC30"]},"legend":null}}},
{"data":{"name":"curves"},"transform":[{"filter":"datum.p==5"},{"fold":["c6"],"as":["k","r"]},{"calculate":"datum.r*cos(datum.a*PI/180)","as":"x"},{"calculate":"datum.r*sin(datum.a*PI/180)","as":"y"}],"mark":{"type":"line","interpolate":"cardinal-closed","strokeWidth":2.5},"encoding":{"order":{"field":"a","type":"quantitative"},"color":{"field":"k","type":"nominal","scale":{"domain":["c1","c2","c3","c4","c5","c6","c7"],"range":["#0072BD","#A2142F","#D95319","#7E2F8E","#EDB120","#4DBEEE","#77AC30"]},"legend":null}}}
]},
{"width":415,"height":419,
"encoding":{"x":{"field":"x","type":"quantitative","scale":{"domain":[-1.7763,1.13394],"nice":false,"zero":false},"axis":null},"y":{"field":"y","type":"quantitative","scale":{"domain":[-1.18724,1.75105],"nice":false,"zero":false},"axis":null}},
"layer":[
{"data":{"name":"grid"},"transform":[{"calculate":"0","as":"x"},{"calculate":"0","as":"y"}],"mark":{"type":"arc","filled":false,"stroke":"#dadada","strokeWidth":1,"theta":0,"theta2":6.2832},"encoding":{"radius":{"field":"r","type":"quantitative","stack":null,"scale":{"type":"linear","domain":[0,1],"range":[0,142.6]},"legend":null}}},
{"data":{"name":"spokes"},"transform":[{"calculate":"cos(datum.a*PI/180)","as":"x"},{"calculate":"sin(datum.a*PI/180)","as":"y"},{"calculate":"0","as":"x0"},{"calculate":"0","as":"y0"}],"mark":{"type":"rule","stroke":"#dadada","strokeWidth":1},"encoding":{"x2":{"field":"x0"},"y2":{"field":"y0"}}},
{"data":{"name":"spokes"},"transform":[{"calculate":"datum.a*PI/180","as":"q"},{"calculate":"1+(7+length(datum.t)*4.7*abs(cos(datum.q))+11*abs(sin(datum.q)))/142.6","as":"k"},{"calculate":"datum.k*cos(datum.q)","as":"x"},{"calculate":"datum.k*sin(datum.q)","as":"y"}],"mark":{"type":"text","font":"Liberation Sans","fontSize":17,"color":"#262626","align":"center","baseline":"middle"},"encoding":{"text":{"field":"t","type":"nominal"}}},
{"data":{"name":"rt"},"transform":[{"calculate":"datum.r*0.17365","as":"x"},{"calculate":"datum.r*0.98481","as":"y"}],"mark":{"type":"text","font":"Liberation Sans","fontSize":17,"color":"#262626","align":"center","baseline":"middle"},"encoding":{"text":{"field":"t","type":"nominal"}}},
{"data":{"name":"titles"},"transform":[{"filter":"datum.p==6"},{"calculate":"0.02","as":"x"},{"calculate":"1.455","as":"y"}],"mark":{"type":"text","font":"Liberation Serif","fontSize":26,"color":"#000000","align":"center","baseline":"middle"},"encoding":{"text":{"field":"t","type":"nominal"}}},
{"data":{"name":"curves"},"transform":[{"filter":"datum.p==6"},{"fold":["c1","c2","c3","c4","c5","c7"],"as":["k","r"]},{"calculate":"datum.r*cos(datum.a*PI/180)","as":"x"},{"calculate":"datum.r*sin(datum.a*PI/180)","as":"y"}],"mark":{"type":"line","interpolate":"cardinal-closed","strokeWidth":2.5},"encoding":{"order":{"field":"a","type":"quantitative"},"color":{"field":"k","type":"nominal","scale":{"domain":["c1","c2","c3","c4","c5","c6","c7"],"range":["#0072BD","#A2142F","#D95319","#7E2F8E","#EDB120","#4DBEEE","#77AC30"]},"legend":null}}},
{"data":{"name":"curves"},"transform":[{"filter":"datum.p==6"},{"fold":["c6"],"as":["k","r"]},{"calculate":"datum.r*cos(datum.a*PI/180)","as":"x"},{"calculate":"datum.r*sin(datum.a*PI/180)","as":"y"}],"mark":{"type":"line","interpolate":"cardinal-closed","strokeWidth":2.5},"encoding":{"order":{"field":"a","type":"quantitative"},"color":{"field":"k","type":"nominal","scale":{"domain":["c1","c2","c3","c4","c5","c6","c7"],"range":["#0072BD","#A2142F","#D95319","#7E2F8E","#EDB120","#4DBEEE","#77AC30"]},"legend":null}}}
]}
]
}
